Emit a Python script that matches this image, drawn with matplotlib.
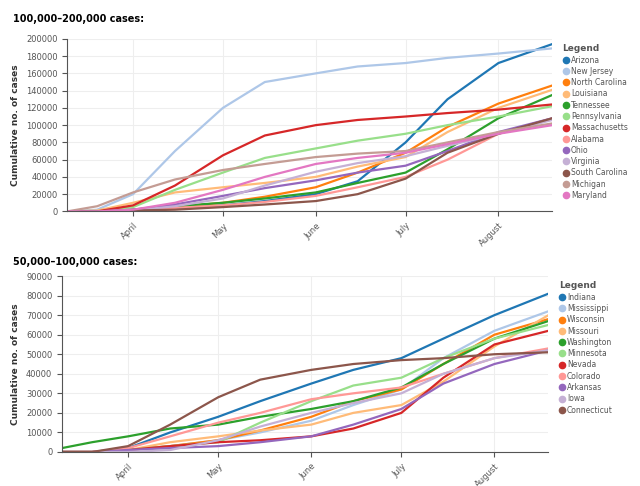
import numpy as np
import matplotlib.pyplot as plt
import matplotlib.dates as mdates
from matplotlib.lines import Line2D
from datetime import date

dates = [date(2020, 3, 10), date(2020, 3, 20), date(2020, 4, 1), date(2020, 4, 15),
         date(2020, 5, 1), date(2020, 5, 15), date(2020, 6, 1), date(2020, 6, 15),
         date(2020, 7, 1), date(2020, 7, 15), date(2020, 8, 1), date(2020, 8, 19)]

top_states = ["Arizona", "New Jersey", "North Carolina", "Louisiana", "Tennessee",
              "Pennsylvania", "Massachusetts", "Alabama", "Ohio", "Virginia",
              "South Carolina", "Michigan", "Maryland"]
# thousands of cases
top_values = [
    [0, 0, 1, 4, 7, 12, 20, 35, 80, 130, 172, 194],
    [0, 2, 20, 70, 120, 150, 160, 168, 172, 178, 183, 189],
    [0, 0, 2, 5, 10, 17, 28, 45, 68, 98, 125, 146],
    [0, 1, 10, 22, 28, 33, 40, 52, 63, 92, 120, 141],
    [0, 0, 2, 6, 10, 15, 22, 33, 45, 72, 108, 135],
    [0, 0, 5, 25, 45, 62, 73, 82, 90, 100, 110, 122],
    [0, 0, 7, 30, 65, 88, 100, 106, 110, 114, 118, 124],
    [0, 0, 1, 4, 7, 11, 18, 28, 40, 60, 90, 108],
    [0, 0, 2, 8, 18, 27, 36, 45, 53, 70, 92, 108],
    [0, 0, 1, 6, 15, 30, 46, 56, 64, 76, 90, 106],
    [0, 0, 1, 2, 5, 8, 12, 20, 38, 68, 90, 108],
    [0, 6, 22, 37, 48, 55, 63, 67, 70, 80, 92, 102],
    [0, 0, 2, 10, 25, 40, 55, 62, 68, 78, 90, 100],
]

bottom_states = ["Indiana", "Mississippi", "Wisconsin", "Missouri", "Washington",
                 "Minnesota", "Nevada", "Colorado", "Arkansas", "Iowa", "Connecticut"]
bottom_values = [
    [0, 0, 2, 10, 18, 26, 35, 42, 48, 58, 70, 81],
    [0, 0, 1, 3, 6, 10, 16, 24, 32, 48, 62, 72],
    [0, 0, 1, 3, 6, 11, 18, 26, 32, 45, 60, 68],
    [0, 0, 1, 5, 8, 11, 14, 20, 24, 36, 54, 70],
    [2, 5, 8, 12, 14, 18, 22, 26, 33, 45, 58, 67],
    [0, 0, 1, 3, 5, 15, 26, 34, 38, 48, 58, 65],
    [0, 0, 1, 3, 5, 6, 8, 12, 20, 38, 55, 62],
    [0, 0, 2, 8, 15, 20, 27, 30, 33, 40, 48, 53],
    [0, 0, 1, 2, 3, 5, 8, 14, 22, 35, 45, 52],
    [0, 0, 0, 1, 6, 13, 20, 25, 30, 40, 48, 52],
    [0, 0, 3, 14, 28, 37, 42, 45, 47, 48, 50, 51],
]

colors = ["#1f77b4", "#aec7e8", "#ff7f0e", "#ffbb78", "#2ca02c", "#98df8a",
          "#d62728", "#ff9896", "#9467bd", "#c5b0d5", "#8c564b", "#c49c94", "#e377c2"]


def draw(ax, states, values, ymax, step, title, title_y):
    for i, v in enumerate(values):
        ax.plot(dates, np.array(v) * 1000, color=colors[i], lw=1.6)
    ax.set_xlim(date(2020, 3, 10), date(2020, 8, 19))
    ax.set_ylim(0, ymax)
    ax.set_yticks(np.arange(0, ymax + 1, step))
    ax.tick_params(labelsize=6, colors="#555555")
    ax.xaxis.set_major_locator(mdates.MonthLocator(bymonth=[4, 5, 6, 7, 8]))
    ax.xaxis.set_major_formatter(mdates.DateFormatter("%B"))
    plt.setp(ax.get_xticklabels(), rotation=45, ha="right", rotation_mode="anchor")
    ax.grid(color="#eeeeee", lw=0.8)
    for sp in ["top", "right"]:
        ax.spines[sp].set_visible(False)
    ax.spines["left"].set_color("#555555")
    ax.spines["bottom"].set_color("#555555")
    ax.set_ylabel("Cumulative no. of cases", fontsize=6.5, fontweight="bold", color="#333333")
    handles = [Line2D([], [], marker="o", ls="none", color=colors[i], markersize=4.5)
               for i in range(len(states))]
    leg = ax.legend(handles, states, loc="upper left", bbox_to_anchor=(1.01, 1.0),
                    frameon=False, fontsize=5.5, title="Legend", handlelength=0.8,
                    handletextpad=0.3, labelspacing=0.3, borderpad=0.2)
    for t in leg.get_texts():
        t.set_color("#555555")
    leg.get_title().set_fontsize(6.5)
    leg.get_title().set_fontweight("bold")
    leg.get_title().set_color("#555555")
    leg._legend_box.align = "left"
    fig.text(0.02, title_y, title, fontsize=7, fontweight="bold")


fig = plt.figure(figsize=(6.4, 4.86), dpi=100)
ax1 = fig.add_axes([0.105, 0.565, 0.758, 0.355])
ax2 = fig.add_axes([0.097, 0.07, 0.76, 0.362])
draw(ax1, top_states, top_values, 200000, 20000, "100,000\u2013200,000 cases:", 0.955)
draw(ax2, bottom_states, bottom_values, 90000, 10000, "50,000\u2013100,000 cases:", 0.455)
fig.savefig("out.png", dpi=100)
